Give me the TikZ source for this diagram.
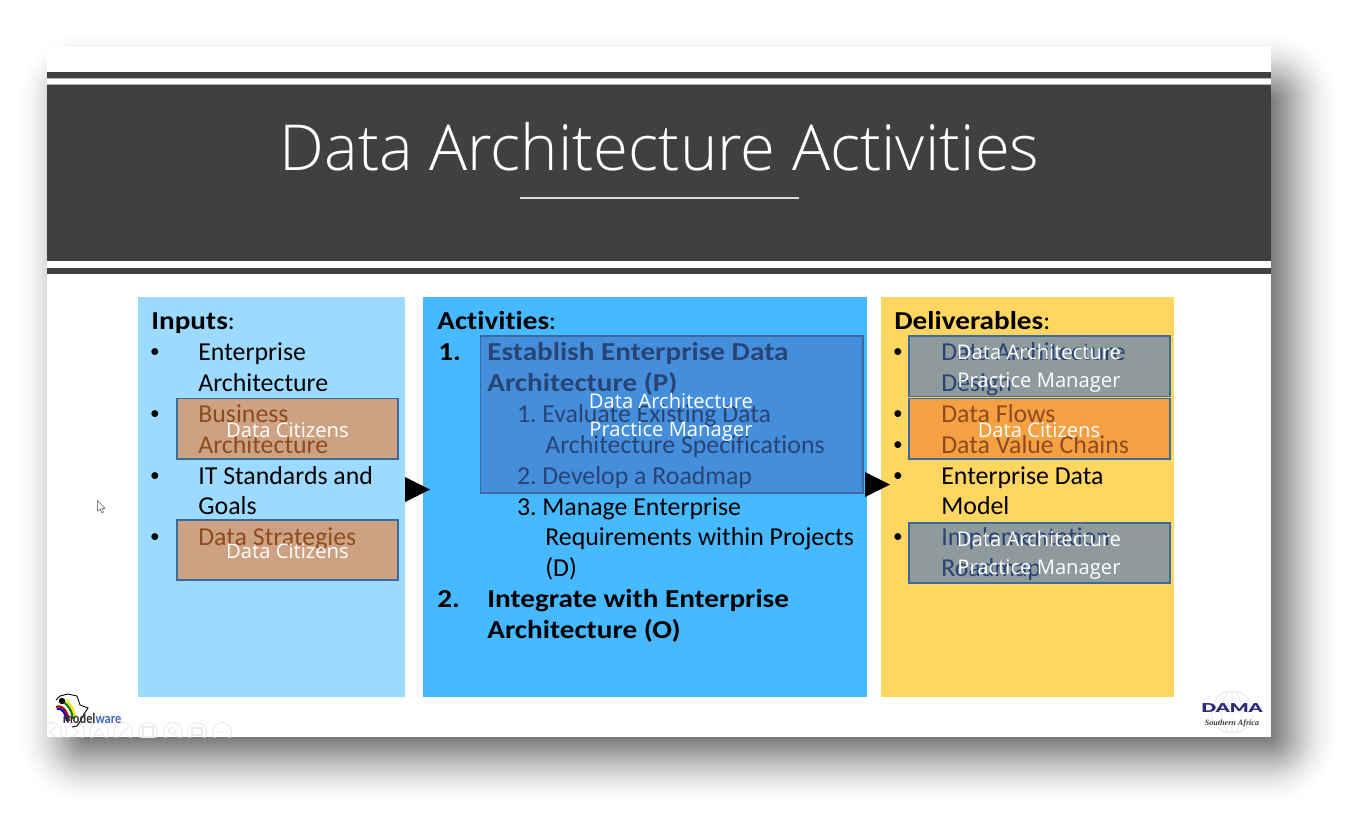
\documentclass[tikz,border=0pt]{standalone}
\usepackage{fontspec}
\setmainfont{Carlito}[Ligatures=NoCommon,BoldFeatures={FakeStretch=1.13}]
\newfontfamily\titlefont{Open Sans Light}
\newfontfamily\tagfont{Open Sans}
\newfontfamily\damafont[FakeStretch=1.6]{Lato Black}
\newfontfamily\logofont{Liberation Serif}
\newfontfamily\warefont[FakeStretch=0.85,Ligatures=NoCommon]{Carlito Bold}
\usetikzlibrary{math}
\definecolor{bandgray}{HTML}{404040}
\definecolor{inputblue}{HTML}{9CDBFF}
\definecolor{activeblue}{HTML}{47B9FF}
\definecolor{delivyellow}{HTML}{FFD660}
\definecolor{tagedge}{HTML}{3C6A9C}
\definecolor{tagorange}{HTML}{ED7D31}
\definecolor{tagblue}{HTML}{4472C4}
\definecolor{damablue}{HTML}{2B2A78}
\definecolor{iconline}{HTML}{ECECEC}
\definecolor{wareblue}{HTML}{4466BB}
\tikzset{
body/.style={anchor=base west,inner sep=0pt,font=\fontsize{14.7}{14.7}\selectfont},
dotmark/.style={inner sep=0pt,font=\fontsize{11}{11}\selectfont},
orangetag/.style={fill=tagorange,fill opacity=0.6,draw=tagedge,draw opacity=1,line width=0.6pt},
bluetag/.style={fill=tagblue,fill opacity=0.6,draw=tagedge,draw opacity=1,line width=0.6pt},
tagtext/.style={text=white,align=center,font=\tagfont\fontsize{11.5}{16}\selectfont,inner sep=0pt},
}
\begin{document}
\begin{tikzpicture}[x=0.02cm,y=-0.02cm]
\tikzmath{
\slideL=47;
\slideR=1271;
\slideT=47;
\slideB=737;
}
\useasboundingbox (0,0) rectangle (1366,832);
\fill[white] (0,0) rectangle (1366,832);

% shadow
\foreach \i in {1,2,...,37}{
\pgfmathsetmacro{\rad}{max(1,72-2*\i)}
\pgfmathsetmacro{\op}{0.00106*\i}
\fill[black,opacity=\op,rounded corners=\rad*0.02cm] (14+2*\i,28+2*\i) rectangle (1342-2*\i,808-2*\i);
}
\fill[white] (\slideL,\slideT) rectangle (\slideR,\slideB);

% title band
\fill[bandgray] (\slideL,72) rectangle (\slideR,77.5);
\fill[gray!60] (\slideL,77.5) rectangle (\slideR,78.5);
\fill[gray!60] (\slideL,83.5) rectangle (\slideR,85);
\fill[bandgray] (\slideL,84.5) rectangle (\slideR,261);
\fill[bandgray] (\slideL,268) rectangle (\slideR,274);
\node[inner sep=0pt,text=white,font=\titlefont\fontsize{36.1}{36.1}\selectfont] (title) at (659.5,147) {Data Architecture Activities};
\draw[white!85!black,line width=0.7pt] (520,198) -- (799,198);

% panels
\fill[inputblue] (138,297) rectangle (405,697);
\fill[activeblue] (423,297) rectangle (867,697);
\fill[delivyellow] (881,297) rectangle (1174,697);

% inputs
\node[body] (inhead) at (151,329) {\textbf{Inputs}:};
\foreach \t/\y/\b [count=\k] in {Enterprise/360/1,Architecture/391/0,Business/422/1,Architecture/453/0,IT Standards and/484/1,Goals/514/0,Data Strategies/545/1}{
\node[body] (in\k) at (198,\y) {\t};
\ifnum\b=1 \node[dotmark] (indot\k) at (155,\y-7) {•}; \fi
}

% activities
\node[body] (achead) at (437,329) {\textbf{Activities}:};
\node[body] (acnuma) at (438,360) {\textbf{1.}};
\node[body] (acnumb) at (437,607) {\textbf{2.}};
\foreach \t/\y [count=\k] in {Establish Enterprise Data/360,Architecture (P)/391,Integrate with Enterprise/607,Architecture (O)/638}{
\node[body] (acbold\k) at (487,\y) {\textbf{\t}};
}
\foreach \t/\y [count=\k] in {1./422,2./484,3./515}{
\node[body,anchor=base east] (acsub\k) at (537,\y) {\t};
}
\foreach \t/\x/\y [count=\k] in {Evaluate Existing Data/542/422,Architecture Specifications/545/453,Develop a Roadmap/542/484,Manage Enterprise/542/515,Requirements within Projects/545/545,(D)/545/576}{
\node[body] (acline\k) at (\x,\y) {\t};
}

% deliverables
\node[body] (delhead) at (894,329) {\textbf{Deliverables}:};
\foreach \t/\y/\b [count=\k] in {Data Architecture/360/1,Design/391/0,Data Flows/422/1,Data Value Chains/453/1,Enterprise Data/484/1,Model/514/0,Implementation/545/1,Roadmap/576/0}{
\node[body] (del\k) at (941,\y) {\t};
\ifnum\b=1 \node[dotmark] (deldot\k) at (898,\y-7) {•}; \fi
}

% tags
\draw[orangetag] (177,398.5) rectangle (398,459);
\draw[orangetag] (177,520) rectangle (398,580);
\draw[orangetag] (909,398.5) rectangle (1170,459);
\draw[bluetag] (480.5,336) rectangle (863,493);
\draw[bluetag] (909,336) rectangle (1170,396.5);
\draw[bluetag] (909,523) rectangle (1170,583);
\foreach \x/\y/\n in {287.5/430/ta,287.5/551/tb,1039/430/tc}{
\node[tagtext] (\n) at (\x,\y) {Data Citizens};
}
\foreach \x/\y/\n in {671/417/td,1039/368/te,1039/555/tf}{
\node[tagtext] (\n) at (\x,\y) {Data Architecture\\Practice Manager};
}

% arrows
\fill (405,477) -- (430,489.5) -- (405,502) -- cycle;
\fill (865,472) -- (890,484.5) -- (865,497) -- cycle;

% cursor
\draw[gray,fill=white,line width=0.4pt] (97.5,500.5) -- (97.5,511) -- (100,509) -- (102,513) -- (103.5,512) -- (102,508.5) -- (105,508.5) -- cycle;

% toolbar
\begin{scope}
\clip (\slideL,700) rectangle (300,\slideB);
\foreach \x in {52,75,99,123,148,173,197,222}{
\draw[iconline,line width=0.6pt] (\x,732) circle (9.5);
}
\draw[iconline,line width=0.6pt] (56,727) -- (49,732) -- (56,737);
\draw[iconline,line width=0.6pt] (72,727) -- (79,732) -- (72,737);
\draw[iconline,line width=0.6pt] (94,735) -- (99,728) -- (104,735) -- cycle;
\draw[iconline,line width=0.6pt] (118,737) -- (128,727);
\draw[iconline,line width=0.6pt] (143,727) rectangle (153,737);
\draw[iconline,line width=0.6pt] (172,731) circle (3.5) (175,734) -- (178,737);
\draw[iconline,line width=0.6pt] (192,728) rectangle (202,735);
\foreach \x in {217,222,227}{
\fill[iconline] (\x,732) circle (1);
}
\end{scope}

% modelware logo
\draw[black,line width=0.5pt] (56,700) -- (60,696) -- (68,694) -- (77,696) -- (80,705) -- (88,708) -- (84,714) -- (81,720) -- (77,726) -- (72,727);
\draw[red!70!black,line width=1.2pt] (56,707) .. controls (63,704) and (68,713) .. (69,721);
\draw[blue!70!black,line width=1.2pt] (57,709) .. controls (62,707) and (66,714) .. (67,721);
\draw[green!50!black,line width=1.2pt] (63,702) .. controls (68,704) and (72,711) .. (73,719);
\draw[yellow!80!orange,line width=1.2pt] (66,700) .. controls (71,704) and (74,710) .. (75,717);
\fill (62,701) circle (3.2);
\node[inner sep=0pt,anchor=base west,text=black!80,font=\warefont\fontsize{8.3}{8.3}\selectfont] (mware) at (62.5,723) {model\textcolor{wareblue}{ware}};

% dama logo
\draw[gray!15,line width=0.5pt] (1232,712) circle (21) (1232,712) ellipse (10 and 21) (1211,712) -- (1253,712) (1214,701) -- (1250,701) (1214,723) -- (1250,723) (1232,691) -- (1232,733);
\node[inner sep=0pt,anchor=base,text=damablue,font=\damafont\fontsize{7}{7}\selectfont] (dama) at (1232,712.5) {DAMA};
\node[inner sep=0pt,anchor=base,text=black!75,font=\logofont\bfseries\itshape\fontsize{4.6}{4.6}\selectfont] (damasub) at (1232,725.5) {Southern Africa};
\end{tikzpicture}
\end{document}
